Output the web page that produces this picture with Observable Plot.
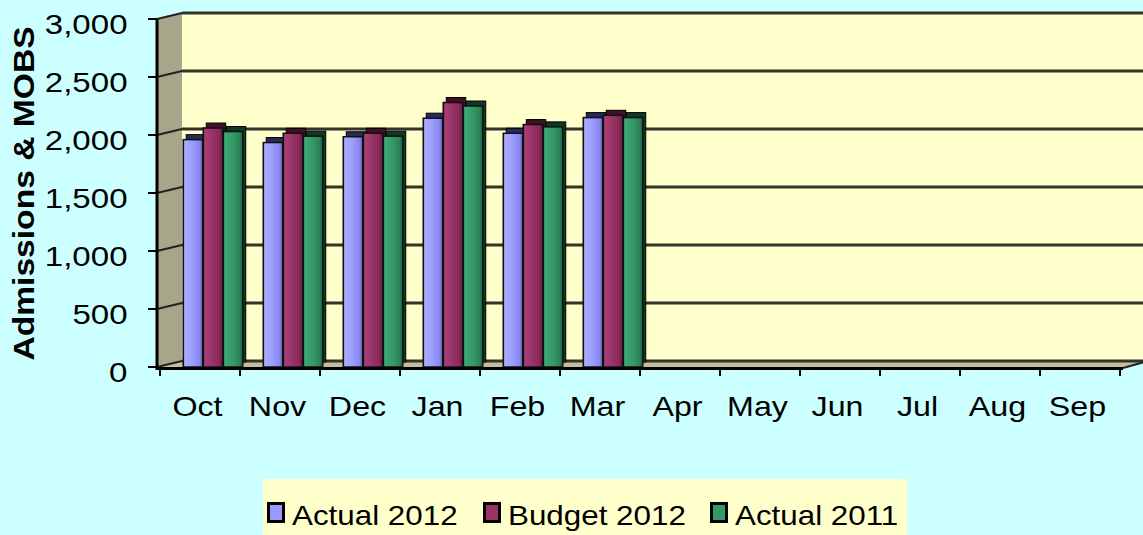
<!DOCTYPE html>
<html>
<head>
<meta charset="utf-8">
<script src="https://cdn.jsdelivr.net/npm/d3@7"></script>
<script src="https://cdn.jsdelivr.net/npm/@observablehq/plot@0.6"></script>
<style>
  html, body { margin: 0; padding: 0; }
  body { background: #CCFFFF; width: 1143px; height: 535px; overflow: hidden; position: relative;
         font-family: "Liberation Sans", Arial, sans-serif; }
  #chart { position: absolute; left: 0; top: 0; }
  #legend { position: absolute; left: 263px; top: 479px; width: 644px; height: 56px; background: #FFFFCC;
            box-sizing: border-box; padding: 23px 0 0 4px; display: flex; align-items: flex-start; }
  .item { display: flex; align-items: flex-start; }
  .sw { width: 18px; height: 21px; box-sizing: border-box; border: 3px solid #000; margin-right: 7px; flex: none; }
  .lab { display: inline-block; font-size: 28px; line-height: 28px; color: #000; white-space: nowrap;
         transform: scaleX(1.12); transform-origin: 0 50%; }
</style>
</head>
<body>
<div id="chart"></div>
<div id="legend"></div>
<script>
// ---- data ----
const months = ["Oct","Nov","Dec","Jan","Feb","Mar","Apr","May","Jun","Jul","Aug","Sep"];
const seriesNames = ["Actual 2012","Budget 2012","Actual 2011"];
const actual2012 = [1960, 1935, 1985, 2145, 2015, 2150];
const budget2012 = [2060, 2015, 2015, 2280, 2090, 2170];
const actual2011 = [2030, 1990, 1990, 2250, 2070, 2150];
const yTicks = [0, 500, 1000, 1500, 2000, 2500, 3000];
const yTitle = "Admissions & MOBS";

// ---- styles ----
const palette = ["#9999FF", "#993366", "#339966"];
const capColors = ["#2A2A5A", "#3F1029", "#0E3A23"];
const gradStops = [
  ["#6C6CC4", "#ABABFF", "#9C9CFF", "#8888EE", "#5C5CB0"],
  ["#6E2248", "#A83F74", "#993366", "#86295A", "#5E1C3C"],
  ["#1F6B45", "#3FAA75", "#339966", "#2B8558", "#1C5E3C"]
];
const OX = 25, OY = -6;   // 3-D depth offset of the back wall
const W = 1143, H = 460;

const seriesValues = [actual2012, budget2012, actual2011];
const rows = seriesValues.map((vals, i) =>
  vals.map((v, j) => ({month: months[j], series: seriesNames[i], value: v})));

const marginLeft = 157, marginRight = 20, marginTop = 19, marginBottom = H - 367;
const bandW = (W - marginLeft - marginRight) / months.length;
const barW = 20, groupPad = (bandW - 3 * barW) / 2, barShift = 13;

function walls(index, scales, values, dims) {
  const y = scales.y;
  const L = dims.marginLeft, R = dims.width - dims.marginRight;
  const y0 = y(0), yT = y(yTicks[yTicks.length - 1]);
  const g = d3.create("svg:g");
  g.append("rect").attr("x", L + OX).attr("y", yT + OY).attr("width", R - L + 40)
    .attr("height", y0 - yT).attr("fill", "#FFFFCC");
  g.append("path").attr("d", `M${L},${yT}L${L+OX},${yT+OY}L${L+OX},${y0+OY}L${L},${y0}Z`)
    .attr("fill", "#A8A68A");
  g.append("path").attr("d", `M${L},${y0}L${R},${y0}L${R+OX},${y0+OY}L${L+OX},${y0+OY}Z`)
    .attr("fill", "#C2C09E");
  for (const t of yTicks) {
    const yy = y(t);
    g.append("line").attr("x1", L + OX).attr("x2", R + OX + 40).attr("y1", yy + OY).attr("y2", yy + OY)
      .attr("stroke", "#33332A").attr("stroke-width", 3);
    g.append("line").attr("x1", L).attr("x2", L + OX).attr("y1", yy).attr("y2", yy + OY)
      .attr("stroke", "#222").attr("stroke-width", 2);
  }
  return g.node();
}

function axesOverlay(index, scales, values, dims) {
  const x = scales.x, y = scales.y;
  const L = dims.marginLeft, R = dims.width - dims.marginRight;
  const y0 = y(0), yT = y(yTicks[yTicks.length - 1]);
  const bw = x.bandwidth ? x.bandwidth() : bandW;
  const g = d3.create("svg:g");
  g.append("line").attr("x1", L).attr("x2", L).attr("y1", yT).attr("y2", y0 + 3)
    .attr("stroke", "#000").attr("stroke-width", 3);
  for (const t of yTicks) {
    g.append("line").attr("x1", L - 9).attr("x2", L).attr("y1", y(t)).attr("y2", y(t))
      .attr("stroke", "#000").attr("stroke-width", 2);
  }
  g.append("line").attr("x1", L).attr("x2", R).attr("y1", y0 + 1.5).attr("y2", y0 + 1.5)
    .attr("stroke", "#000").attr("stroke-width", 3);
  const bounds = months.map(m => x(m)).concat([x(months[months.length - 1]) + bw]);
  for (const bx of bounds) {
    g.append("line").attr("x1", bx).attr("x2", bx).attr("y1", y0).attr("y2", y0 + 9)
      .attr("stroke", "#000").attr("stroke-width", 2);
  }
  g.append("line").attr("x1", R).attr("x2", R + OX).attr("y1", y0 + 1).attr("y2", y0 + OY)
    .attr("stroke", "#222").attr("stroke-width", 2);
  return g.node();
}

const barMarks = [];
rows.forEach((data, i) => {
  const insetLeft = groupPad + i * barW;
  const insetRight = bandW - insetLeft - barW;
  barMarks.push(Plot.barY(data, {x: "month", y: "value", insetLeft, insetRight,
    dx: barShift + 3, dy: -5, fill: capColors[i], stroke: "#000", strokeWidth: 1}));
  barMarks.push(Plot.barY(data, {x: "month", y: "value", insetLeft, insetRight,
    dx: barShift, fill: `url(#grad${i})`, stroke: "#111", strokeWidth: 1.5}));
});

const svg = Plot.plot({
  width: W, height: H,
  marginLeft, marginRight, marginTop, marginBottom,
  style: {background: "transparent", fontFamily: "'Liberation Sans', Arial, sans-serif", color: "#000", overflow: "visible"},
  x: {type: "band", domain: months, padding: 0, axis: null},
  y: {domain: [0, 3000], axis: null},
  marks: [
    walls,
    ...barMarks,
    axesOverlay,
    Plot.text(yTicks, {frameAnchor: "left", y: d => d, text: d => d3.format(",")(d),
      dx: -30, dy: 6, textAnchor: "end", fontSize: 28, fill: "#000"}),
    Plot.text(months, {x: d => d, frameAnchor: "bottom", text: d => d, lineAnchor: "top",
      dx: -3, dy: 29, textAnchor: "middle", fontSize: 28, fill: "#000"}),
    Plot.text([yTitle], {frameAnchor: "left", text: d => d, rotate: -90, dx: -133,
      textAnchor: "middle", lineAnchor: "middle", fontSize: 30, fontWeight: "bold", fill: "#000"})
  ]
});

// gradients for the column faces
const ns = "http://www.w3.org/2000/svg";
const defs = document.createElementNS(ns, "defs");
gradStops.forEach((stops, i) => {
  const lg = document.createElementNS(ns, "linearGradient");
  lg.setAttribute("id", `grad${i}`);
  lg.setAttribute("x1", "0"); lg.setAttribute("x2", "1");
  lg.setAttribute("y1", "0"); lg.setAttribute("y2", "0");
  const offs = [0, 0.1, 0.5, 0.82, 1];
  stops.forEach((c, k) => {
    const s = document.createElementNS(ns, "stop");
    s.setAttribute("offset", offs[k]);
    s.setAttribute("stop-color", c);
    lg.appendChild(s);
  });
  defs.appendChild(lg);
});
svg.insertBefore(defs, svg.firstChild);

document.getElementById("chart").appendChild(svg);

// widen the text glyphs like the original rendering, keeping each text's anchor point in place
svg.querySelectorAll("text").forEach(t => {
  const txt = t.textContent;
  const s = txt === yTitle ? 1.12 : (/\d/.test(txt) ? 1.18 : 1.15);
  const len = t.getComputedTextLength();
  if (!(len > 0)) return;
  const anchor = getComputedStyle(t).textAnchor;
  const b0 = t.getBBox();
  t.setAttribute("textLength", (len * s).toFixed(1));
  t.setAttribute("lengthAdjust", "spacingAndGlyphs");
  const b1 = t.getBBox();
  let shift;
  if (anchor === "middle") shift = (b0.x + b0.width / 2) - (b1.x + b1.width / 2);
  else if (anchor === "end") shift = (b0.x + b0.width) - (b1.x + b1.width);
  else shift = b0.x - b1.x;
  if (Math.abs(shift) > 0.1) {
    const prev = parseFloat(t.getAttribute("dx") || 0) || 0;
    t.setAttribute("dx", (prev + shift).toFixed(1));
  }
});

// legend
const legend = document.getElementById("legend");
const gaps = [25, 25, 0];
seriesNames.forEach((name, i) => {
  const item = document.createElement("div");
  item.className = "item";
  const sw = document.createElement("div");
  sw.className = "sw";
  sw.style.background = palette[i];
  const lab = document.createElement("span");
  lab.className = "lab";
  lab.textContent = name;
  item.appendChild(sw); item.appendChild(lab);
  legend.appendChild(item);
  const w = lab.getBoundingClientRect().width;
  const natural = lab.offsetWidth;
  item.style.marginRight = (gaps[i] + (w - natural)) + "px";
});
</script>
</body>
</html>
